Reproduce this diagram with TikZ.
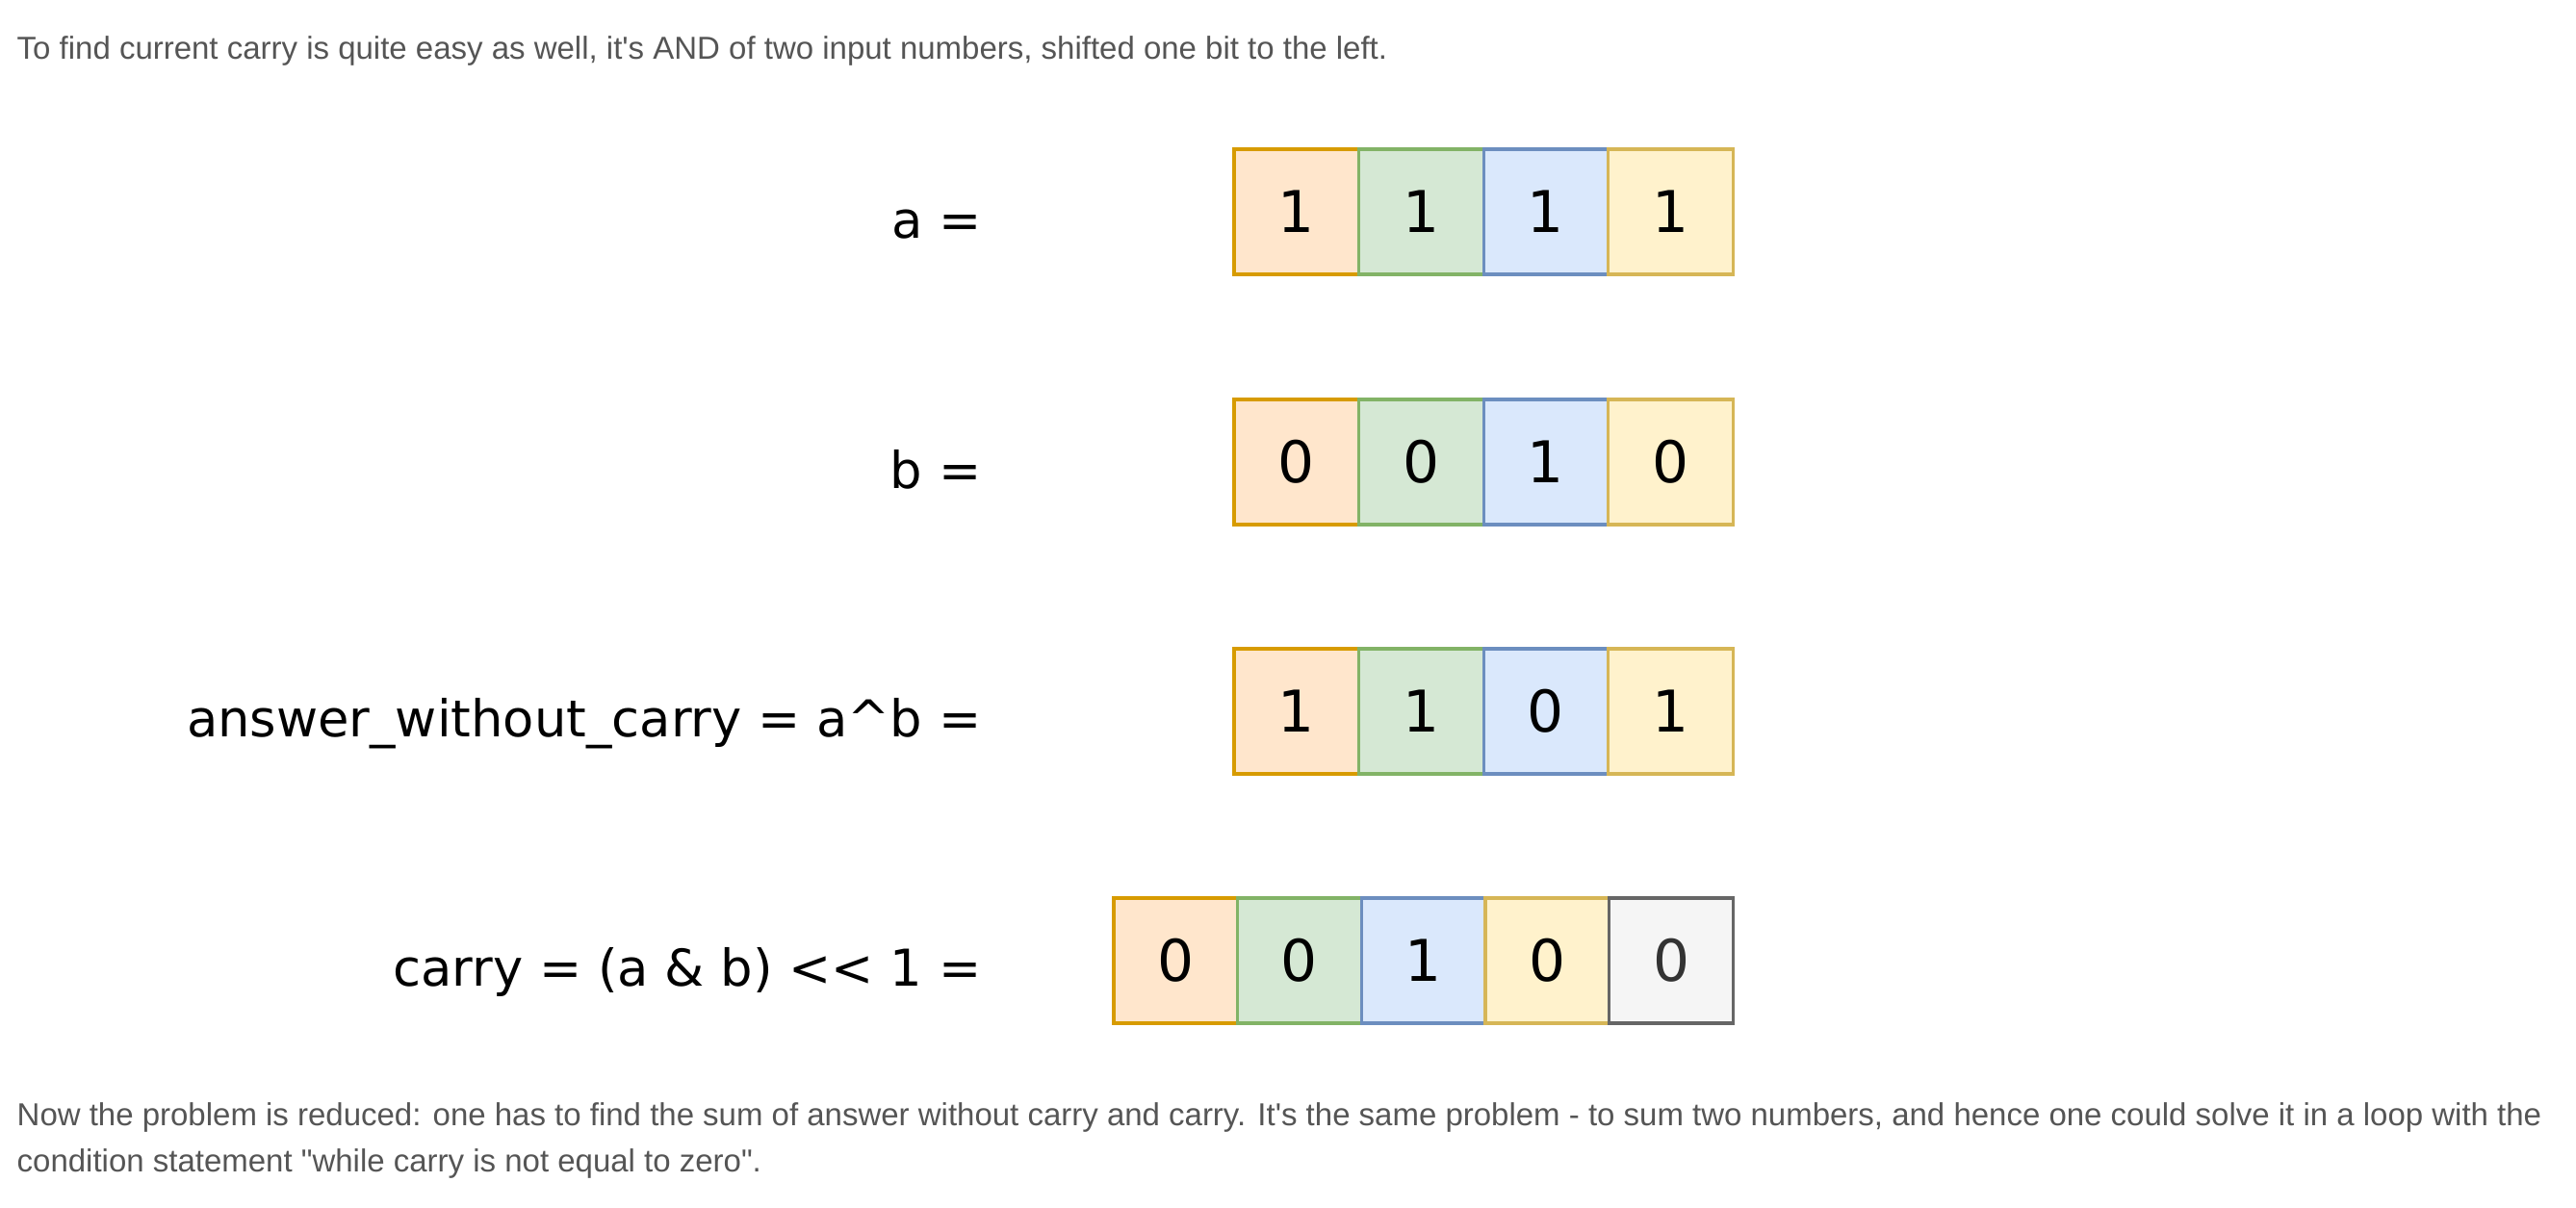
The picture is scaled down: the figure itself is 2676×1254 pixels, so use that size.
\documentclass[tikz,border=0pt]{standalone}
\usepackage{fontspec}
\setmainfont{Liberation Sans}
\newfontfamily\bodyfont{Liberation Sans}
\newfontfamily\handfont{DejaVu Sans}
\usetikzlibrary{positioning}

\definecolor{orangefill}{HTML}{FFE6CC}
\definecolor{orangeline}{HTML}{D79B00}
\definecolor{greenfill}{HTML}{D5E8D4}
\definecolor{greenline}{HTML}{82B366}
\definecolor{bluefill}{HTML}{DAE8FC}
\definecolor{blueline}{HTML}{6C8EBF}
\definecolor{yellowfill}{HTML}{FFF2CC}
\definecolor{yellowline}{HTML}{D6B656}
\definecolor{greyfill}{HTML}{F5F5F5}
\definecolor{greyline}{HTML}{666666}
\definecolor{bodygrey}{HTML}{555555}

\tikzset{
  bitcell/.style={draw, line width=0.9pt, minimum width=1.295cm,
    minimum height=1.3cm, inner sep=0pt, outer sep=0pt,
    font=\handfont\fontsize{17}{20}\selectfont},
  bitorange/.style={bitcell, fill=orangefill, draw=orangeline},
  bitgreen/.style={bitcell, fill=greenfill, draw=greenline},
  bitblue/.style={bitcell, fill=bluefill, draw=blueline},
  bityellow/.style={bitcell, fill=yellowfill, draw=yellowline},
  bitgrey/.style={bitcell, fill=greyfill, draw=greyline, text=black!80},
  narrow/.style={minimum width=1.286cm},
  rowlabel/.style={anchor=base east, inner sep=0pt,
    font=\handfont\fontsize{15}{18}\selectfont},
  bodytext/.style={anchor=base west, inner sep=0pt, text=bodygrey,
    font=\bodyfont\fontsize{9.38}{13.7}\selectfont}
}

\begin{document}
\begin{tikzpicture}[x=0.01cm, y=-0.01cm]

  \useasboundingbox (0,0) rectangle (2676,1254);

  \def\labx{1020}
  \def\rowa{220} % a
  \def\rowb{480} % b
  \def\rowx{739} % a xor b
  \def\rowc{998} % carry

  \node[bodytext] (intro) at (17,61) {To find current carry is quite easy as well, it's AND of two input numbers, shifted one bit to the left.};

  % a
  \node[rowlabel] (laba) at (\labx,\rowa+27) {a =};
  \node[bitorange] (a1) at (1346.75,\rowa) {1};
  \node[bitgreen, right=0pt of a1] (a2) {1};
  \node[bitblue, right=0pt of a2] (a3) {1};
  \node[bityellow, right=0pt of a3] (a4) {1};

  % b
  \node[rowlabel] (labb) at (\labx,\rowb+27) {b =};
  \node[bitorange] (b1) at (1346.75,\rowb) {0};
  \node[bitgreen, right=0pt of b1] (b2) {0};
  \node[bitblue, right=0pt of b2] (b3) {1};
  \node[bityellow, right=0pt of b3] (b4) {0};

  % answer without carry
  \node[rowlabel] (labx) at (\labx,\rowx+26) {answer\_without\_carry = a\textasciicircum b =};
  \node[bitorange] (x1) at (1346.75,\rowx) {1};
  \node[bitgreen, right=0pt of x1] (x2) {1};
  \node[bitblue, right=0pt of x2] (x3) {0};
  \node[bityellow, right=0pt of x3] (x4) {1};

  % carry
  \node[rowlabel] (labc) at (\labx,\rowc+26) {carry = (a \& b) << 1 =};
  \node[bitorange, narrow] (c1) at (1221.3,\rowc) {0};
  \node[bitgreen, narrow, right=0pt of c1] (c2) {0};
  \node[bitblue, narrow, right=0pt of c2] (c3) {1};
  \node[bityellow, narrow, right=0pt of c3] (c4) {0};
  \node[bitgrey, narrow, right=0pt of c4] (c5) {0};

  \node[bodytext] (outro1) at (17,1169) {Now the problem is reduced: one has to find the sum of answer without carry and carry. It's the same problem - to sum two numbers, and hence one could solve it in a loop with the};
  \node[bodytext] (outro2) at (17,1217) {condition statement "while carry is not equal to zero".};

\end{tikzpicture}
\end{document}
